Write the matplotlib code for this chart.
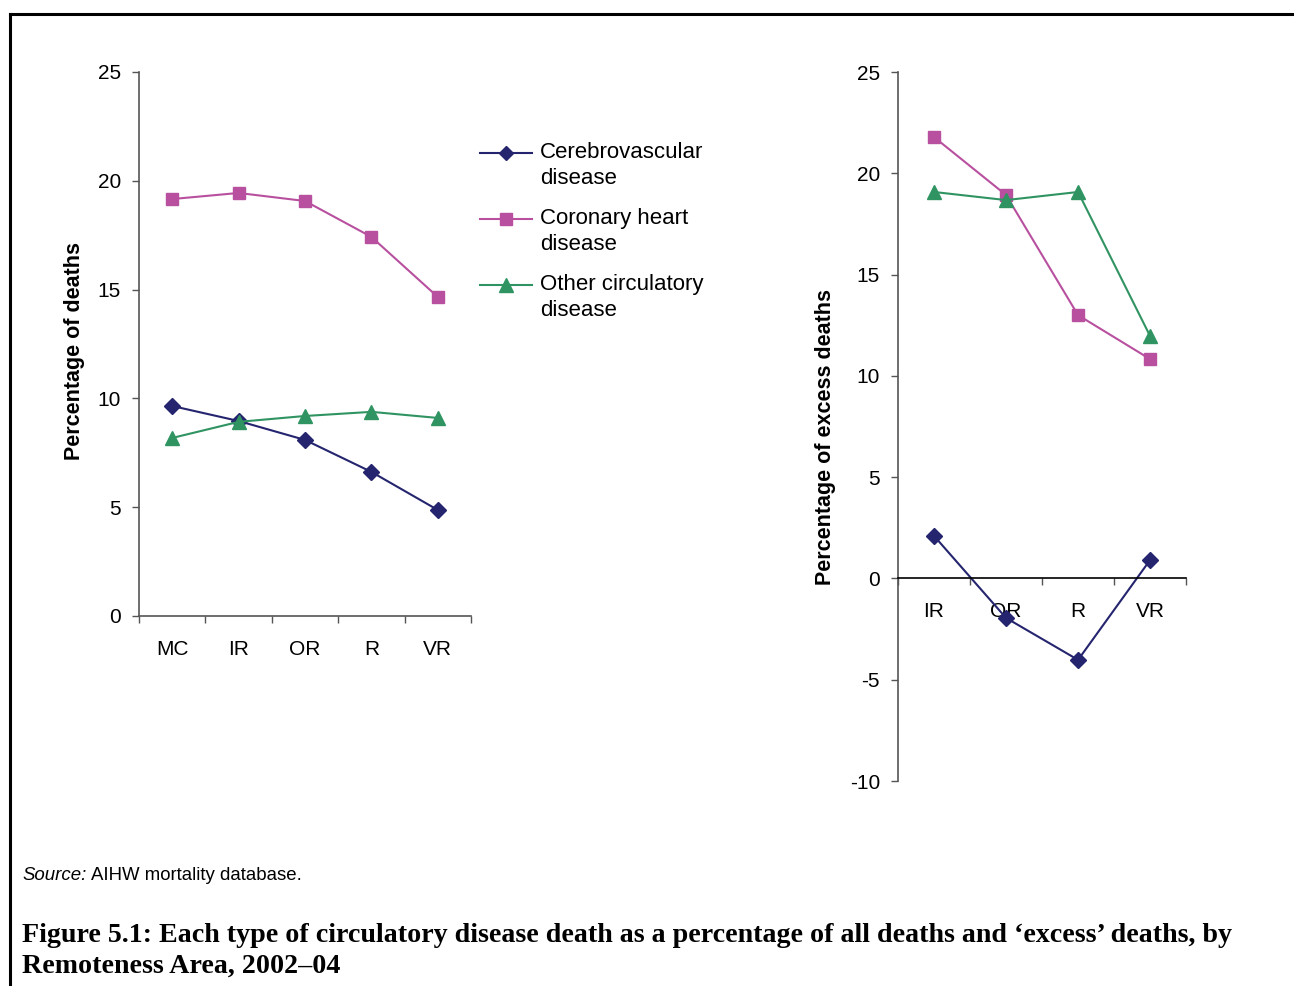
import numpy as np
import matplotlib.pyplot as plt
from matplotlib.lines import Line2D

plt.rcParams['font.family'] = ['Liberation Sans', 'DejaVu Sans']
plt.rcParams['axes.unicode_minus'] = False

# Share of all deaths by remoteness area
areas_all = ['MC', 'IR', 'OR', 'R', 'VR']
cerebro_all = [9.65, 8.96, 8.09, 6.62, 4.87]
coronary_all = [19.16, 19.44, 19.07, 17.42, 14.66]
other_all = [8.18, 8.92, 9.19, 9.38, 9.10]

# Share of 'excess' deaths (no MC column)
areas_excess = ['IR', 'OR', 'R', 'VR']
cerebro_excess = [2.1, -1.95, -4.02, 0.91]
coronary_excess = [21.79, 18.93, 13.0, 10.83]
other_excess = [19.08, 18.68, 19.08, 11.97]

series_names = ['Cerebrovascular\ndisease', 'Coronary heart\ndisease', 'Other circulatory\ndisease']
navy = '#25256f'
pink = '#b8509f'
green = '#2f9462'
styles = [(navy, 'D', 8), (pink, 's', 8.5), (green, '^', 10)]

fig = plt.figure(figsize=(12.94, 9.86), dpi=100)

ax1 = fig.add_axes([0.1074, 0.3753, 0.2566, 0.5517])
ax2 = fig.add_axes([0.694, 0.2079, 0.2226, 0.719])
ax2.spines['bottom'].set_position(('data', 0))


def draw(ax, labels, cer, cor, oth):
    x = np.arange(len(labels))
    for vals, (col, mk, ms) in zip([cer, cor, oth], styles):
        ax.plot(x, vals, color=col, lw=1.5, marker=mk, ms=ms)
    ax.set_xlim(-0.5, len(labels) - 0.5)
    # tick marks between categories, labels at category centres
    ax.set_xticks(np.arange(len(labels) + 1) - 0.5)
    ax.set_xticklabels([])
    ax.set_xticks(x, minor=True)
    ax.set_xticklabels(labels, minor=True, fontsize=15)
    ax.tick_params(axis='x', which='minor', length=0, pad=17)
    ax.tick_params(axis='x', which='major', direction='out', length=5, width=1, color='#555555')
    ax.tick_params(axis='y', direction='out', length=5, width=1, labelsize=15, pad=8, color='#555555')
    for side in ['top', 'right']:
        ax.spines[side].set_visible(False)
    for side in ['left', 'bottom']:
        ax.spines[side].set_color('#555555')
        ax.spines[side].set_linewidth(1.2)
    ax.set_facecolor('none')


draw(ax1, areas_all, cerebro_all, coronary_all, other_all)
ax1.set_ylim(0, 25)
ax1.set_yticks(range(0, 26, 5))
ax1.set_ylabel('Percentage of deaths', fontsize=15.5, fontweight='bold')
ax1.yaxis.set_label_coords(-0.163, 0.487)

draw(ax2, areas_excess, cerebro_excess, coronary_excess, other_excess)
ax2.set_ylim(-10, 25)
ax2.set_yticks(range(-10, 26, 5))
ax2.spines['bottom'].set_color('black')
ax2.set_ylabel('Percentage of excess deaths', fontsize=15.5, fontweight='bold')
ax2.yaxis.set_label_coords(-0.215, 0.485)

# legend to the right of the first panel, handle level with first text line
for i, (name, (col, mk, ms)) in enumerate(zip(series_names, styles)):
    y = 1 - (153 + 66 * i - 72) / 544
    ax1.add_line(Line2D([1.026, 1.185], [y, y], transform=ax1.transAxes, clip_on=False,
                        color=col, lw=1.5))
    ax1.add_line(Line2D([1.105], [y], transform=ax1.transAxes, clip_on=False,
                        color=col, marker=mk, ms=ms * 0.95, lw=0))
    ax1.text(1.208, y + 0.02, name, transform=ax1.transAxes, fontsize=16,
             va='top', ha='left', linespacing=1.32)

# frame around the figure area
fig.add_artist(Line2D([0.0077, 1.0], [0.9858, 0.9858], color='black', lw=2.2))
fig.add_artist(Line2D([0.0077, 0.0077], [0.0, 0.9858], color='black', lw=2.2))

fig.text(0.017, 1 - 875 / 986, 'Source:', fontsize=13.4, style='italic', va='center')
fig.text(0.0703, 1 - 875 / 986, 'AIHW mortality database.', fontsize=13.4, va='center')

fig.text(0.017, 1 - 951 / 986,
         'Figure 5.1: Each type of circulatory disease death as a percentage of all deaths and \u2018excess\u2019 deaths, by\n'
         'Remoteness Area, 2002\u201304',
         family='Liberation Serif', fontweight='bold', fontsize=20.2, va='center', linespacing=1.3)

fig.savefig('out.png', dpi=100)
